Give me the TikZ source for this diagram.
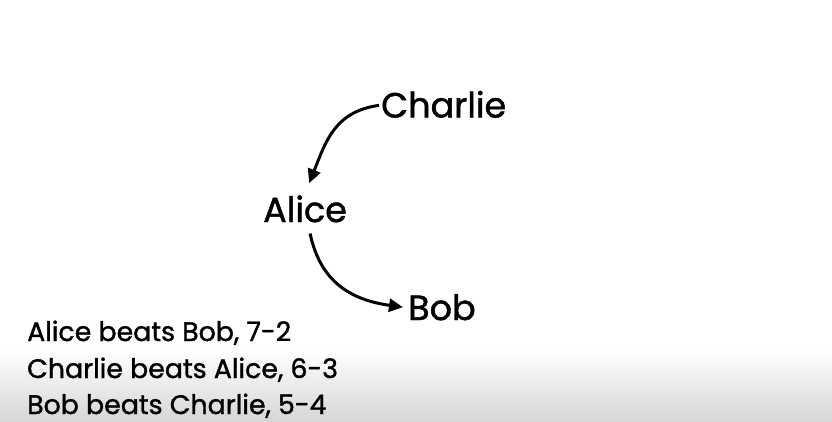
\documentclass[tikz,border=0pt]{standalone}
\usepackage{fontspec}
\setmainfont{Poppins}[FakeBold=1.3]
\usetikzlibrary{arrows.meta}
\definecolor{botgray}{RGB}{214,214,214}
\begin{document}
\begin{tikzpicture}[x=1pt,y=-1pt,
  person/.style={inner sep=0pt,font=\fontsize{35}{40}\selectfont,anchor=base west},
  fact/.style={inner sep=0pt,font=\fontsize{26.8}{30}\selectfont,anchor=base west},
  beat/.style={-{Triangle[length=14pt,width=13pt]},line width=3pt,black}]
\useasboundingbox (0,0) rectangle (832,421);
\fill[white] (0,0) rectangle (832,421);
\shade[top color=white,bottom color=botgray] (0,350) rectangle (832,421);
\node[person] (charlie) at (381,117.5) {Charlie};
\node[person] (alice) at (263,222) {Alice};
\node[person] (bob) at (408,320) {Bob};
\node[fact] (f1) at (27,341) {Alice beats Bob, 7-2};
\node[fact] (f2) at (27,378) {Charlie beats Alice, 6-3};
\node[fact] (f3) at (27,414) {Bob beats Charlie, 5-4};
\draw[beat] ([xshift=-2,yshift=-1]charlie.west) to[out=188,in=68,looseness=1.1] ([xshift=4,yshift=12]alice.north);
\draw[beat] ([xshift=5,yshift=-11]alice.south) to[out=-78,in=172,looseness=1.1] ([xshift=-5,yshift=0]bob.west);
\end{tikzpicture}
\end{document}
